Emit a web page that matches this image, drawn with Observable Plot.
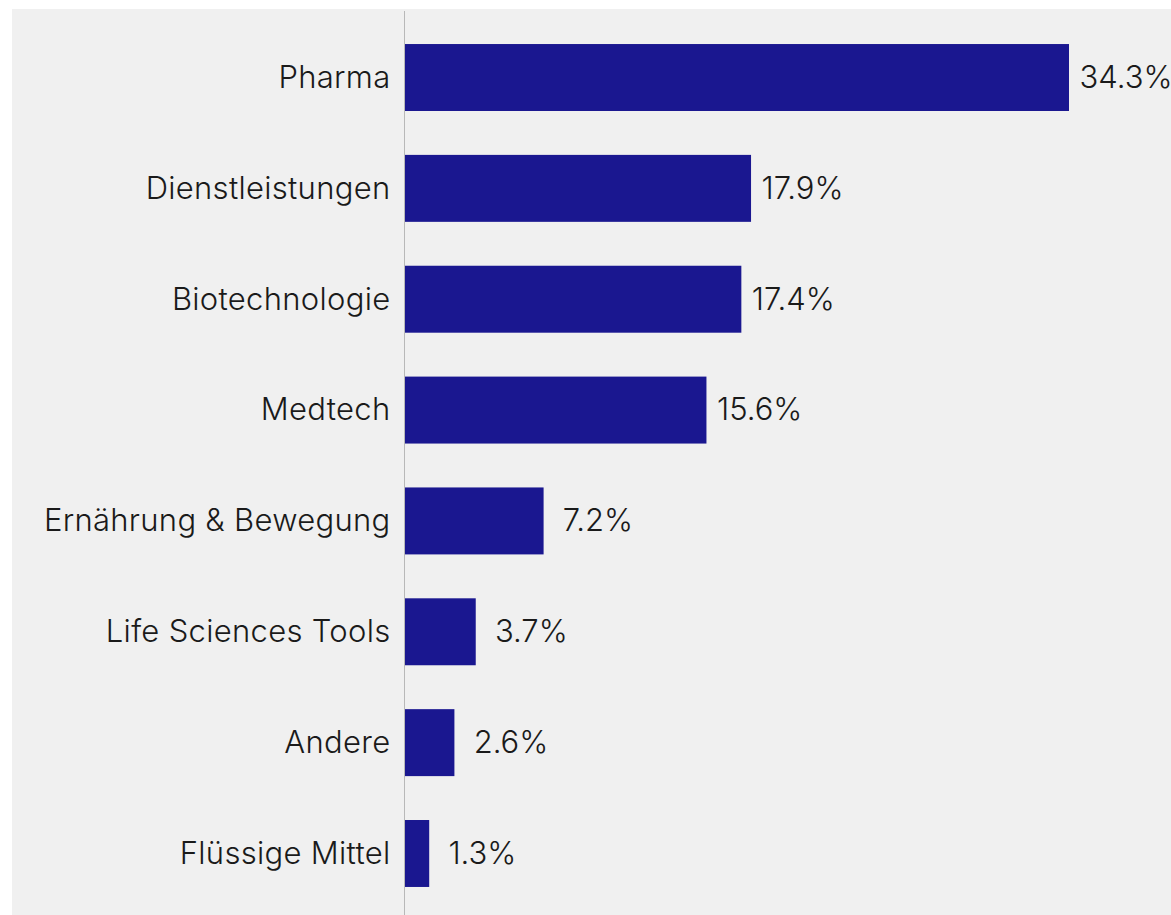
<!DOCTYPE html>
<html>
<head>
<meta charset="utf-8">
<script src="https://cdn.jsdelivr.net/npm/d3@7"></script>
<script src="https://cdn.jsdelivr.net/npm/@observablehq/plot@0.6"></script>
<style>
  html, body { margin: 0; padding: 0; background: #ffffff; }
  #chart { position: absolute; left: 12px; top: 9px; width: 1159px; height: 906px; background: #f0f0f0; overflow: hidden; }
  #chart svg { background: #f0f0f0; display: block; overflow: visible; }
  #chart svg text { letter-spacing: 0.3px; }
  #chart svg g.values text { letter-spacing: 0px; }
</style>
</head>
<body>
<div id="chart"></div>
<script>
const categories = ["Pharma", "Dienstleistungen", "Biotechnologie", "Medtech", "Ernährung & Bewegung", "Life Sciences Tools", "Andere", "Flüssige Mittel"];
const values = [34.3, 17.9, 17.4, 15.6, 7.2, 3.7, 2.6, 1.3];

const data = categories.map((c, i) => ({category: c, value: values[i]}));
// labels padded to a fixed width, as in the original ("%4.1f%%")
const fmt = v => (v < 10 ? "\u00a0" : "") + v.toFixed(1) + "%";

const chart = Plot.plot({
  width: 1159,
  height: 911,
  marginLeft: 392,
  marginRight: 102,
  marginTop: 2,
  marginBottom: 0,
  style: {background: "#f0f0f0", fontFamily: "Inter, Roboto, sans-serif", color: "#1a1a1a"},
  x: {domain: [0, 34.3], axis: null},
  y: {domain: categories, paddingInner: 0.396, paddingOuter: 0.298, round: false, label: null},
  marks: [
    Plot.barX(data, {x: "value", y: "category", fill: "#1a1790"}),
    Plot.ruleX([0], {stroke: "#b8b8b8", strokeWidth: 1}),
    Plot.axisY({tickSize: 0, tickPadding: 14, fontSize: 31, fontWeight: 300, label: null, fill: "#1a1a1a"}),
    Plot.text(data, {x: "value", y: "category", text: d => fmt(d.value), textAnchor: "start", dx: 10, fontSize: 31, fontWeight: 300, fill: "#1a1a1a", className: "values"})
  ]
});
document.getElementById("chart").appendChild(chart);
</script>
</body>
</html>
